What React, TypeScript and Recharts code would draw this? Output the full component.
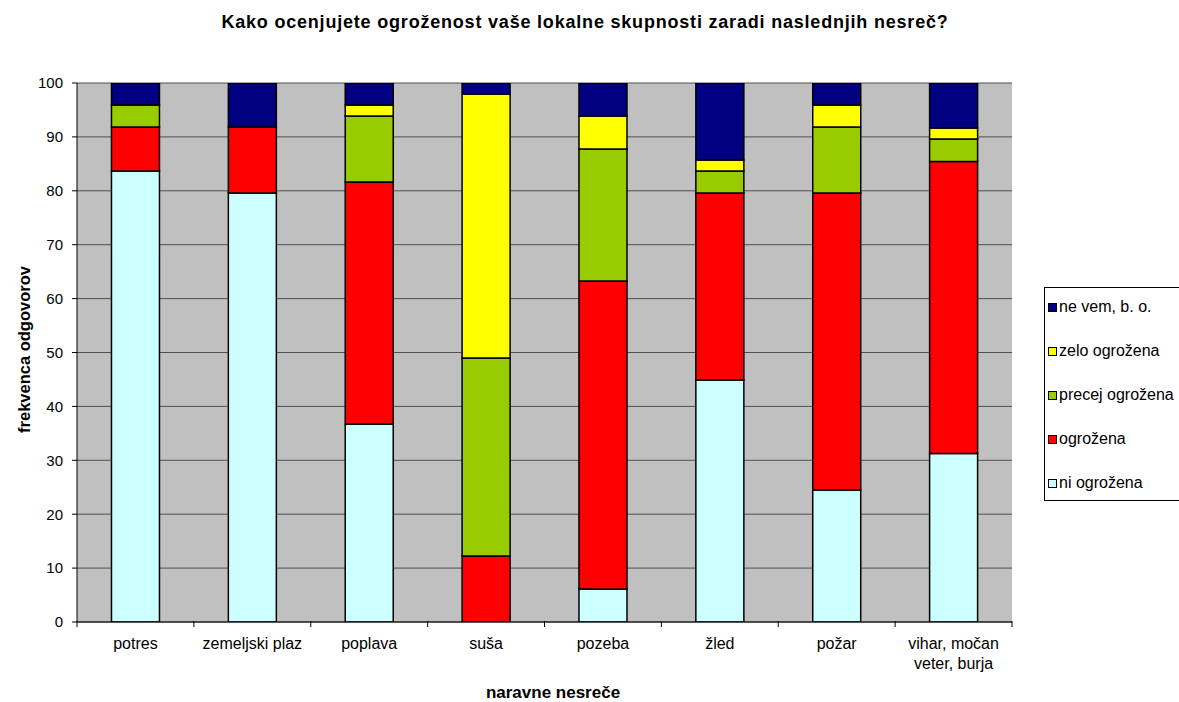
import { BarChart, Bar, XAxis, YAxis, CartesianGrid, Legend, Customized } from "recharts";

const categories = ["potres", "zemeljski plaz", "poplava", "suša", "pozeba", "žled", "požar", "vihar, močan veter, burja"];
// shares in percent
const niOgrozena = [83.67, 79.59, 36.73, 0, 6.12, 44.9, 24.49, 31.25];
const ogrozena = [8.16, 12.24, 44.9, 12.24, 57.14, 34.69, 55.1, 54.17];
const precejOgrozena = [4.08, 0, 12.24, 36.73, 24.49, 4.08, 12.24, 4.17];
const zeloOgrozena = [0, 0, 2.04, 48.98, 6.12, 2.04, 4.08, 2.08];
const neVem = [4.08, 8.16, 4.08, 2.04, 6.12, 14.29, 4.08, 8.33];
const yTicks = [0, 10, 20, 30, 40, 50, 60, 70, 80, 90, 100];

const series = [
  { key: "ni", name: "ni ogrožena", color: "#CCFFFF" },
  { key: "ogr", name: "ogrožena", color: "#FF0000" },
  { key: "precej", name: "precej ogrožena", color: "#99CC00" },
  { key: "zelo", name: "zelo ogrožena", color: "#FFFF00" },
  { key: "nevem", name: "ne vem, b. o.", color: "#000080" },
];

const data = categories.map((c, i) => ({
  name: c,
  ni: niOgrozena[i],
  ogr: ogrozena[i],
  precej: precejOgrozena[i],
  zelo: zeloOgrozena[i],
  nevem: neVem[i],
}));

const FONT = "'Liberation Sans', Arial, sans-serif";
const PLOT_W = 935;
const LEGEND_W = 140;

// label split into lines, tick marks sit on the category borders
function CategoryTick(props: any) {
  const { x, y, payload, index, visibleTicksCount } = props;
  const step = PLOT_W / categories.length;
  const words: string[] = payload.value.split(" ");
  let lines: string[] = [payload.value];
  if (payload.value.length > 16) {
    lines = [words.slice(0, 2).join(" "), words.slice(2).join(" ")];
  }
  return (
    <g>
      <line x1={x - step / 2} x2={x - step / 2} y1={y - 9} y2={y - 3} stroke="#000" />
      {index === visibleTicksCount - 1 && (
        <line x1={x + step / 2} x2={x + step / 2} y1={y - 9} y2={y - 3} stroke="#000" />
      )}
      <text x={x} y={y + 19} textAnchor="middle" fontSize={16} fontFamily={FONT} fill="#000">
        {lines.map((l, i) => (
          <tspan key={i} x={x} dy={i === 0 ? 0 : 20}>
            {l}
          </tspan>
        ))}
      </text>
    </g>
  );
}

function LegendBox() {
  const items = [...series].reverse();
  return (
    <div
      style={{
        position: "relative",
        width: LEGEND_W,
        height: 214,
        border: "1px solid #000",
        background: "#fff",
        fontFamily: FONT,
        fontSize: 16,
        boxSizing: "border-box",
        whiteSpace: "nowrap",
      }}
    >
      {items.map((s, i) => (
        <div
          key={s.key}
          style={{ position: "absolute", left: 3, top: 19 + i * 44 - 10, height: 20, display: "flex", alignItems: "center" }}
        >
          <span
            style={{
              display: "inline-block",
              width: 7,
              height: 7,
              background: s.color,
              border: "1px solid #000",
              marginRight: 2,
            }}
          />
          <span>{s.name}</span>
        </div>
      ))}
    </div>
  );
}

function PlotFrame(props: any) {
  const { offset } = props;
  if (!offset) return null;
  return (
    <rect
      x={offset.left}
      y={offset.top}
      width={offset.width}
      height={offset.height}
      fill="none"
      stroke="#808080"
      strokeWidth={1}
    />
  );
}

export default function App() {
  return (
    <div
      style={{
        position: "absolute",
        left: 0,
        top: 0,
        width: 1179,
        height: 702,
        overflow: "hidden",
        background: "#fff",
        fontFamily: FONT,
      }}
    >
      <div
        style={{
          position: "absolute",
          top: 12,
          left: -15,
          width: 1200,
          textAlign: "center",
          fontWeight: "bold",
          fontSize: 18,
          letterSpacing: 0.8,
        }}
      >
        Kako ocenjujete ogroženost vaše lokalne skupnosti zaradi naslednjih nesreč?
      </div>
      <div
        style={{
          position: "absolute",
          left: 24 - 110,
          top: 350 - 10,
          width: 220,
          textAlign: "center",
          transform: "rotate(-90deg)",
          fontWeight: "bold",
          fontSize: 16.5,
        }}
      >
        frekvenca odgovorov
      </div>
      <div
        style={{
          position: "absolute",
          left: 553 - 100,
          top: 683,
          width: 200,
          textAlign: "center",
          fontWeight: "bold",
          fontSize: 17,
        }}
      >
        naravne nesreče
      </div>
      <BarChart
        width={1179}
        height={702}
        data={data}
        margin={{ top: 83, right: 167 - LEGEND_W, bottom: 0, left: 0 }}
        barCategoryGap="29.5%"
        style={{ position: "absolute", left: 0, top: 0 }}
      >
        <CartesianGrid fill="#C0C0C0" stroke="#505050" vertical={false} horizontalValues={yTicks} />
        <Customized component={PlotFrame} />
        <XAxis
          dataKey="name"
          interval={0}
          tickLine={false}
          axisLine={{ stroke: "#000" }}
          tick={<CategoryTick />}
          height={80}
        />
        <YAxis
          domain={[0, 100]}
          ticks={yTicks}
          width={77}
          axisLine={{ stroke: "#000" }}
          tickLine={{ stroke: "#000" }}
          tickSize={5}
          tickMargin={9}
          tick={{ fontSize: 15, fill: "#000", fontFamily: FONT }}
          allowDataOverflow
        />
        <Legend
          layout="vertical"
          align="right"
          verticalAlign="top"
          wrapperStyle={{ left: 1044, top: 287, width: LEGEND_W }}
          content={<LegendBox />}
        />
        {series.map((s) => (
          <Bar
            key={s.key}
            dataKey={s.key}
            name={s.name}
            stackId="a"
            fill={s.color}
            stroke="#000"
            strokeWidth={1.5}
            isAnimationActive={false}
          />
        ))}
      </BarChart>
    </div>
  );
}
